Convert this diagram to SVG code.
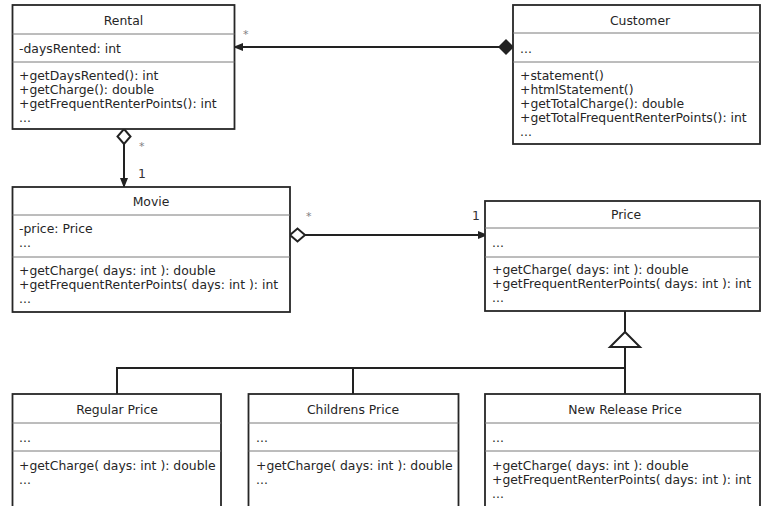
<svg xmlns="http://www.w3.org/2000/svg" width="762" height="506" viewBox="0 0 762 506">
  <style>
    .box { fill: #ffffff; stroke: #262626; stroke-width: 1.8; }
    .sep { stroke: #7a7a7a; stroke-width: 1; }
    text { font-family: "DejaVu Sans", "Liberation Sans", sans-serif; font-size: 12.4px; fill: #262626; }
    .title { text-anchor: middle; }
    .mult { fill: #808080; font-size: 11px; }
    .num { fill: #333333; }
    .edge { fill: none; stroke: #222222; stroke-width: 2; }
  </style>
  <defs>
    <marker id="arrow" markerUnits="userSpaceOnUse" markerWidth="12" markerHeight="10" refX="10" refY="4" orient="auto">
      <path d="M0,0 L10,4 L0,8 z" fill="#222222"/>
    </marker>
    <marker id="filledDiamond" markerUnits="userSpaceOnUse" markerWidth="18" markerHeight="18" refX="0" refY="8" orient="auto">
      <path d="M0,8 L8,0 L16,8 L8,16 z" fill="#222222"/>
    </marker>
    <marker id="hollowDiamond" markerUnits="userSpaceOnUse" markerWidth="20" markerHeight="18" refX="1" refY="8" orient="auto">
      <path d="M1,8 L8.5,1.5 L16,8 L8.5,14.5 z" fill="#ffffff" stroke="#222222" stroke-width="2"/>
    </marker>
  </defs>
  <rect width="762" height="506" fill="#ffffff"/>

  <!-- connectors -->
  <g id="connectors">
    <path class="edge" d="M514,47 H233" marker-start="url(#filledDiamond)" marker-end="url(#arrow)"/>
    <text class="mult" x="243" y="38">*</text>

    <path class="edge" d="M124,129 V188" marker-start="url(#hollowDiamond)" marker-end="url(#arrow)"/>
    <text class="mult" x="139" y="150">*</text>
    <text class="num" x="138" y="178">1</text>

    <path class="edge" d="M290,235 H488" marker-start="url(#hollowDiamond)" marker-end="url(#arrow)"/>
    <text class="mult" x="306" y="220">*</text>
    <text class="num" x="472" y="220">1</text>

    <!-- generalization tree -->
    <path class="edge" d="M625,311 V332"/>
    <path class="edge" d="M625,347 V394"/>
    <path class="edge" d="M117,394 V368 H625"/>
    <path class="edge" d="M353,368 V394"/>
    <polygon points="625,332 610,347 640,347" fill="#ffffff" stroke="#222222" stroke-width="2"/>
  </g>

  <g id="rental">
    <rect class="box" x="12.5" y="5" width="222" height="124"/>
    <line class="sep" x1="12.5" y1="34" x2="234.5" y2="34"/>
    <line class="sep" x1="12.5" y1="62" x2="234.5" y2="62"/>
    <text class="title" x="123.5" y="25">Rental</text>
    <text x="19" y="53">-daysRented: int</text>
    <text x="19" y="80">+getDaysRented(): int</text>
    <text x="19" y="94">+getCharge(): double</text>
    <text x="19" y="108">+getFrequentRenterPoints(): int</text>
    <text x="19" y="122">...</text>
  </g>

  <g id="customer">
    <rect class="box" x="513" y="5" width="247" height="139"/>
    <line class="sep" x1="513" y1="33" x2="760" y2="33"/>
    <line class="sep" x1="513" y1="62" x2="760" y2="62"/>
    <text class="title" x="640" y="25">Customer</text>
    <text x="520" y="53">...</text>
    <text x="520" y="80">+statement()</text>
    <text x="520" y="94">+htmlStatement()</text>
    <text x="520" y="108">+getTotalCharge(): double</text>
    <text x="520" y="122">+getTotalFrequentRenterPoints(): int</text>
    <text x="520" y="136">...</text>
  </g>

  <g id="movie">
    <rect class="box" x="12.5" y="187" width="277.5" height="125"/>
    <line class="sep" x1="12.5" y1="215" x2="290" y2="215"/>
    <line class="sep" x1="12.5" y1="257" x2="290" y2="257"/>
    <text class="title" x="151" y="206">Movie</text>
    <text x="19" y="233">-price: Price</text>
    <text x="19" y="247">...</text>
    <text x="19" y="275">+getCharge( days: int ): double</text>
    <text x="19" y="289">+getFrequentRenterPoints( days: int ): int</text>
    <text x="19" y="303">...</text>
  </g>

  <g id="price">
    <rect class="box" x="485" y="201" width="275" height="110"/>
    <line class="sep" x1="485" y1="228" x2="760" y2="228"/>
    <line class="sep" x1="485" y1="257" x2="760" y2="257"/>
    <text class="title" x="626" y="219">Price</text>
    <text x="492" y="247">...</text>
    <text x="492" y="274">+getCharge( days: int ): double</text>
    <text x="492" y="288">+getFrequentRenterPoints( days: int ): int</text>
    <text x="492" y="302">...</text>
  </g>

  <g id="regular-price">
    <rect class="box" x="12.5" y="394" width="208.5" height="130"/>
    <line class="sep" x1="12.5" y1="423" x2="221" y2="423"/>
    <line class="sep" x1="12.5" y1="451" x2="221" y2="451"/>
    <text class="title" x="117" y="414">Regular Price</text>
    <text x="19" y="442">...</text>
    <text x="19" y="470">+getCharge( days: int ): double</text>
    <text x="19" y="484">...</text>
  </g>

  <g id="childrens-price">
    <rect class="box" x="248.5" y="394" width="210" height="130"/>
    <line class="sep" x1="248.5" y1="423" x2="458.5" y2="423"/>
    <line class="sep" x1="248.5" y1="451" x2="458.5" y2="451"/>
    <text class="title" x="353" y="414">Childrens Price</text>
    <text x="256" y="442">...</text>
    <text x="256" y="470">+getCharge( days: int ): double</text>
    <text x="256" y="484">...</text>
  </g>

  <g id="new-release-price">
    <rect class="box" x="485" y="394" width="275" height="130"/>
    <line class="sep" x1="485" y1="423" x2="760" y2="423"/>
    <line class="sep" x1="485" y1="451" x2="760" y2="451"/>
    <text class="title" x="625" y="414">New Release Price</text>
    <text x="492" y="442">...</text>
    <text x="492" y="470">+getCharge( days: int ): double</text>
    <text x="492" y="484">+getFrequentRenterPoints( days: int ): int</text>
    <text x="492" y="498">...</text>
  </g>
</svg>
